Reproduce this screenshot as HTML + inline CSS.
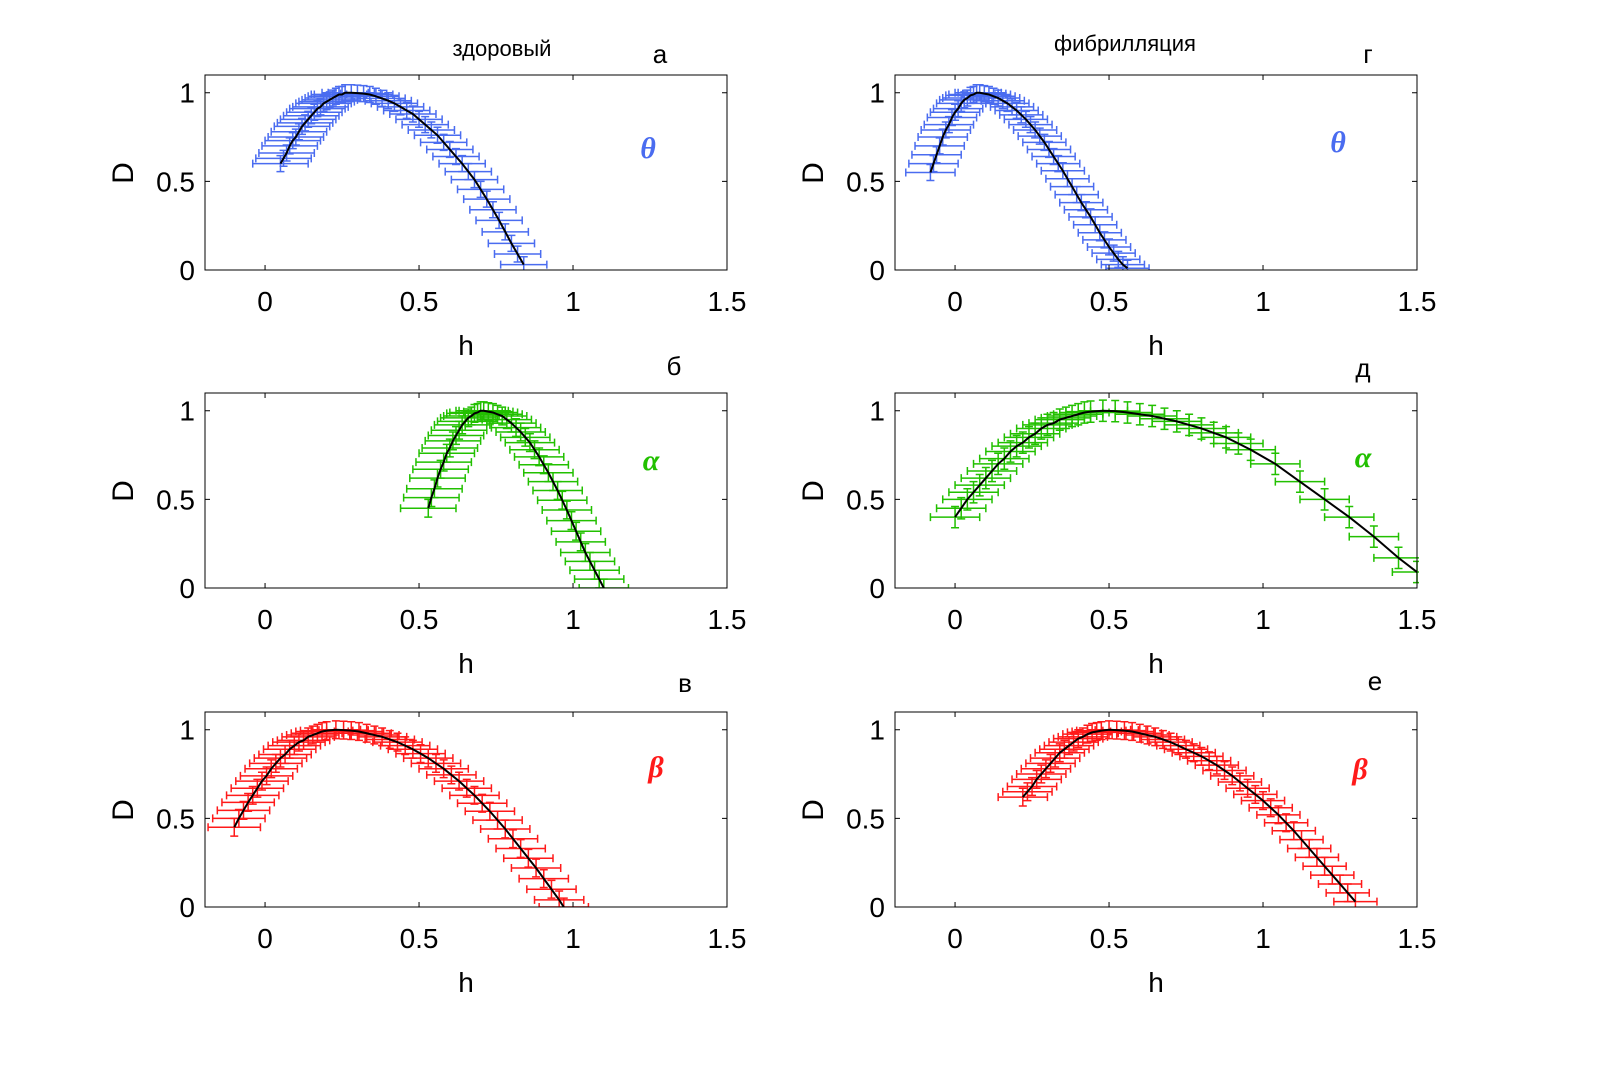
<!DOCTYPE html>
<html><head><meta charset="utf-8"><style>
body{margin:0;background:#fff}
svg{display:block}
text{font-family:"Liberation Sans","Noto Sans CJK SC",sans-serif}
</style></head><body>
<svg id="fig" width="1600" height="1071" viewBox="0 0 1600 1071">
<text x="502" y="56" font-size="22" text-anchor="middle">здоровый</text>
<text x="1125" y="51" font-size="22" text-anchor="middle">фибрилляция</text>
</svg>
<script>
const panelLetters=["а","б","в","г","д","е"];
const panelGreek=["θ","α","β","θ","α","β"];
const panelColors=["#4a6cf0","#22c000","#ff1a1a","#4a6cf0","#22c000","#ff1a1a"];
const xTicks=[0,0.5,1,1.5];
const yTicks=[0,0.5,1];
const xTickLabels=["0","0.5","1","1.5"];
const yTickLabels=["0","0.5","1"];
const hA=[0.05,0.06,0.07,0.08,0.09,0.10,0.11,0.12,0.13,0.14,0.15,0.16,0.17,0.18,0.19,0.20,0.21,0.22,0.23,0.24,0.25,0.26,0.28,0.30,0.32,0.34,0.36,0.38,0.40,0.42,0.44,0.46,0.48,0.50,0.52,0.54,0.56,0.58,0.60,0.62,0.64,0.66,0.68,0.70,0.72,0.74,0.76,0.78,0.80,0.82,0.84];
const dA=[0.60,0.63,0.66,0.70,0.73,0.75,0.78,0.81,0.83,0.85,0.87,0.89,0.91,0.92,0.94,0.95,0.96,0.97,0.98,0.99,0.99,1.0,1.0,0.998,0.995,0.99,0.98,0.968,0.955,0.94,0.92,0.90,0.88,0.85,0.82,0.79,0.76,0.72,0.68,0.64,0.60,0.555,0.51,0.455,0.40,0.34,0.28,0.215,0.15,0.09,0.03];
const hB=[0.53,0.54,0.55,0.56,0.57,0.58,0.59,0.60,0.61,0.62,0.63,0.64,0.65,0.66,0.67,0.68,0.69,0.70,0.71,0.725,0.74,0.755,0.77,0.785,0.80,0.815,0.83,0.845,0.86,0.875,0.89,0.905,0.92,0.935,0.95,0.965,0.98,0.995,1.01,1.025,1.04,1.055,1.07,1.085,1.10];
const dB=[0.45,0.51,0.56,0.62,0.67,0.71,0.76,0.79,0.83,0.86,0.89,0.92,0.94,0.96,0.97,0.985,0.99,1.0,1.0,0.995,0.99,0.98,0.97,0.95,0.93,0.905,0.88,0.85,0.82,0.78,0.74,0.695,0.65,0.60,0.55,0.495,0.44,0.38,0.32,0.26,0.20,0.15,0.10,0.05,0.0];
const hC=[-0.10,-0.085,-0.07,-0.055,-0.04,-0.025,-0.01,0.005,0.02,0.035,0.05,0.065,0.08,0.095,0.11,0.125,0.14,0.155,0.17,0.185,0.20,0.23,0.255,0.28,0.305,0.33,0.355,0.38,0.405,0.43,0.455,0.48,0.505,0.53,0.555,0.58,0.605,0.63,0.655,0.68,0.705,0.73,0.755,0.78,0.805,0.83,0.855,0.88,0.905,0.93,0.955,0.97];
const dC=[0.45,0.50,0.545,0.59,0.63,0.67,0.71,0.74,0.78,0.81,0.84,0.86,0.89,0.91,0.93,0.94,0.96,0.97,0.98,0.99,0.995,1.0,0.998,0.995,0.99,0.98,0.97,0.96,0.945,0.93,0.91,0.89,0.865,0.84,0.81,0.78,0.745,0.71,0.67,0.63,0.585,0.54,0.49,0.44,0.385,0.33,0.275,0.22,0.16,0.10,0.04,0.0];
const hD=[-0.08,-0.07,-0.06,-0.05,-0.04,-0.03,-0.02,-0.01,0,0.01,0.02,0.03,0.04,0.05,0.06,0.07,0.08,0.095,0.11,0.125,0.14,0.155,0.17,0.185,0.20,0.215,0.23,0.245,0.26,0.275,0.29,0.305,0.32,0.335,0.35,0.365,0.38,0.395,0.41,0.425,0.44,0.455,0.47,0.485,0.50,0.515,0.53,0.545,0.56];
const dD=[0.55,0.60,0.65,0.70,0.75,0.79,0.82,0.86,0.89,0.91,0.94,0.96,0.97,0.985,0.99,1.0,1.0,0.995,0.99,0.98,0.97,0.955,0.94,0.92,0.90,0.875,0.85,0.82,0.79,0.755,0.72,0.68,0.64,0.60,0.56,0.515,0.47,0.425,0.38,0.34,0.30,0.255,0.21,0.17,0.13,0.095,0.06,0.03,0.01];
const hE=[0.0,0.02,0.04,0.06,0.08,0.10,0.12,0.14,0.16,0.18,0.20,0.22,0.24,0.26,0.28,0.30,0.32,0.34,0.36,0.38,0.40,0.42,0.44,0.48,0.52,0.56,0.60,0.64,0.68,0.72,0.76,0.80,0.84,0.88,0.92,0.96,1.04,1.12,1.20,1.28,1.36,1.44,1.50];
const dE=[0.40,0.45,0.50,0.54,0.58,0.62,0.66,0.70,0.73,0.77,0.80,0.82,0.85,0.87,0.90,0.92,0.93,0.95,0.96,0.97,0.98,0.99,0.995,1.0,0.998,0.99,0.98,0.97,0.955,0.94,0.92,0.90,0.875,0.85,0.815,0.78,0.70,0.60,0.50,0.40,0.29,0.17,0.09];
const hF=[0.22,0.235,0.25,0.265,0.28,0.295,0.31,0.325,0.34,0.355,0.37,0.385,0.40,0.415,0.43,0.445,0.46,0.475,0.50,0.525,0.55,0.575,0.60,0.625,0.65,0.675,0.70,0.725,0.75,0.775,0.80,0.825,0.85,0.875,0.90,0.925,0.95,0.975,1.00,1.025,1.05,1.075,1.10,1.125,1.15,1.175,1.20,1.225,1.25,1.275,1.30];
const dF=[0.62,0.65,0.68,0.72,0.75,0.78,0.81,0.84,0.87,0.89,0.91,0.93,0.95,0.96,0.975,0.985,0.99,0.995,1.0,0.998,0.995,0.99,0.98,0.97,0.96,0.945,0.93,0.91,0.89,0.87,0.85,0.825,0.80,0.77,0.74,0.705,0.67,0.635,0.60,0.56,0.52,0.475,0.43,0.38,0.33,0.28,0.23,0.18,0.13,0.08,0.03];
const xErr=[0.075,0.08,0.08,0.07,0.08,0.07];
const xErrLeft=[0.09,0.09,0.085,0.08,0.08,0.08];
const yErr=[0.045,0.05,0.05,0.045,0.06,0.05];

const NS="http://www.w3.org/2000/svg";
const svg=document.getElementById('fig');
const H=[hA,hB,hC,hD,hE,hF], Dv=[dA,dB,dC,dD,dE,dF];
const colL=[205,895], tops=[75,393,712];
const W=522, PH=195, XMIN=-0.195, XMAX=1.5, YMAX=1.1;
const letterPos=[[660,63],[674,375],[685,692],[1368,63],[1363,377],[1375,690]];
const greekPos=[[648,158],[651,470],[656,777],[1338,152],[1363,467],[1360,779]];
function mk(tag,attrs,parent){const e=document.createElementNS(NS,tag);for(const k in attrs)e.setAttribute(k,attrs[k]);(parent||svg).appendChild(e);return e;}
for(let p=0;p<6;p++){
  const L=colL[Math.floor(p/3)], T=tops[p%3];
  const sx=v=>L+(v-XMIN)/(XMAX-XMIN)*W;
  const sy=v=>T+PH-(v/YMAX)*PH;
  const g=mk('g',{});
  
  
  const clip=mk('clipPath',{id:'c'+p},g);
  mk('rect',{x:L,y:T-20,width:W+2,height:PH+20},clip);
  const marks=mk('g',{'clip-path':'url(#c'+p+')'},g);
  const col=panelColors[p], ye=yErr[p];
  let peak=0;for(let i=1;i<Dv[p].length;i++)if(Dv[p][i]>Dv[p][peak])peak=i;
  for(let i=0;i<H[p].length;i++){
    const xe=i<peak?xErrLeft[p]:xErr[p];
    const x=sx(H[p][i]), y=sy(Dv[p][i]);
    const x1=sx(H[p][i]-xe), x2=sx(H[p][i]+xe), y1=sy(Dv[p][i]+ye), y2=sy(Dv[p][i]-ye);
    const eb=mk('path',{d:`M${x1},${y}H${x2}M${x1},${y-4}V${y+4}M${x2},${y-4}V${y+4}M${x},${y1}V${y2}M${x-4},${y1}H${x+4}M${x-4},${y2}H${x+4}`,stroke:col,'stroke-width':1.5,fill:'none'},marks);
    
    
  }
  const line=mk('polyline',{points:H[p].map((h,i)=>sx(h)+','+sy(Dv[p][i])).join(' '),stroke:'#000','stroke-width':2,fill:'none'},marks);
  
  
  const box=mk('rect',{x:L,y:T,width:W,height:PH,fill:'none',stroke:'#000','stroke-width':1},g);
  
  
  xTicks.forEach((t,i)=>{
    const x=sx(t);
    mk('path',{d:`M${x},${T+PH}v-5M${x},${T}v5`,stroke:'#000'},g);
    const tl=mk('text',{x:x,y:T+PH+41,'font-size':28,'text-anchor':'middle'},g);tl.textContent=xTickLabels[i];
    
    
  });
  yTicks.forEach((t,i)=>{
    const y=sy(t);
    mk('path',{d:`M${L},${y}h5M${L+W},${y}h-5`,stroke:'#000'},g);
    const tl=mk('text',{x:L-10,y:y+10,'font-size':28,'text-anchor':'end'},g);tl.textContent=yTickLabels[i];
    
    
  });
  const xl=mk('text',{x:L+261,y:T+PH+85,'font-size':28,'text-anchor':'middle'},g);xl.textContent='h';
  
  
  const yx=L-72, yy=T+98;
  const yl=mk('text',{x:yx,y:yy,'font-size':30,'text-anchor':'middle',transform:`rotate(-90 ${yx} ${yy})`},g);yl.textContent='D';
  
  
  const lt=mk('text',{x:letterPos[p][0],y:letterPos[p][1],'font-size':26,'text-anchor':'middle'},g);lt.textContent=panelLetters[p];
  
  
  const gk=mk('text',{x:greekPos[p][0],y:greekPos[p][1],'font-size':30,'font-style':'italic','font-weight':'bold','text-anchor':'middle',fill:col,style:'font-family:"Liberation Serif",serif'},g);gk.textContent=panelGreek[p];
  
  
}
</script>
</body></html>
